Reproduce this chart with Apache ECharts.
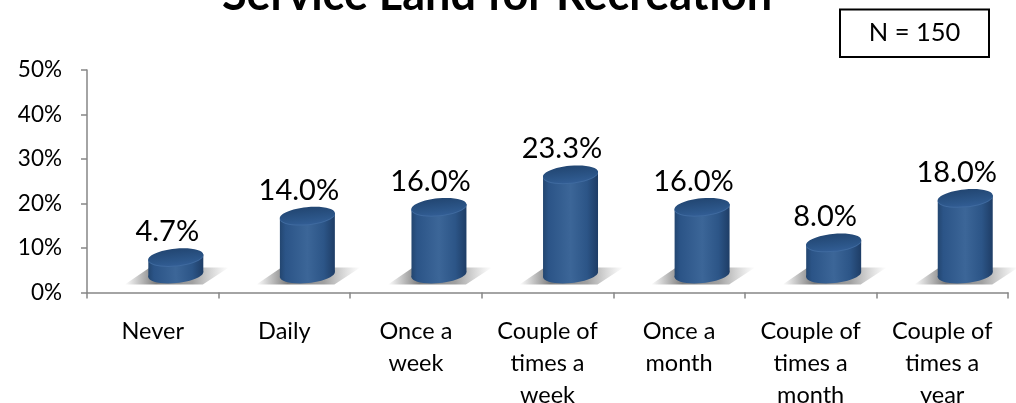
<!DOCTYPE html>
<html><head><meta charset="utf-8">
<style>html,body{margin:0;padding:0;background:#fff}#c{width:1016px;height:403px}</style>
<script src="https://cdn.jsdelivr.net/npm/echarts@6/dist/echarts.min.js"></script>
</head><body><div id="c"></div>
<script>
const titleText = 'Service Land for Recreation';
const noteText = 'N = 150';
const categories = ['Never','Daily','Once a\nweek','Couple of\ntimes a\nweek','Once a\nmonth','Couple of\ntimes a\nmonth','Couple of\ntimes a\nyear'];
const values = [4.7,14.0,16.0,23.3,16.0,8.0,18.0];
const yTicks = {min:0,max:50,interval:10};
const FONT = 'Lato, Carlito, "Open Sans", sans-serif';

function sideGrad(){
  return {type:'linear',x:0,y:0,x2:1,y2:0,colorStops:[
    {offset:0,color:'#234670'},{offset:0.1,color:'#2b5487'},{offset:0.5,color:'#3c6698'},
    {offset:0.8,color:'#2c5587'},{offset:1,color:'#1e3d66'}]};
}
function topGrad(){
  return {type:'linear',x:0,y:0,x2:0,y2:1,colorStops:[
    {offset:0,color:'#224672'},{offset:0.7,color:'#2c5689'},{offset:1,color:'#325d94'}]};
}
function renderBar(params, api){
  const i = api.value(0), v = api.value(1);
  const band = api.size([1,0])[0];
  const c = api.coord([i,v]), base = api.coord([i,0]);
  const cx = c[0] + band*0.175, rx = band*0.21, ry = 8.5;
  const topY = c[1]-14.5, botY = base[1]-18;
  const tilt = 0.1, dy = rx*Math.sin(tilt), dx = rx*Math.cos(tilt);
  const ell = (y,fill)=>({type:'ellipse',
    shape:{cx:0,cy:0,rx:rx,ry:ry},x:cx,y:y,rotation:tilt,style:{fill:fill}});
  const sb = base[1]-8, st = base[1]-25;
  return {type:'group',children:[
    {type:'polygon',shape:{points:[[cx-51,sb],[cx-26,st],[cx+53,st],[cx+27,sb]]},
     style:{fill:{type:'linear',x:0,y:0,x2:1,y2:0,colorStops:[
       {offset:0,color:'rgba(110,110,110,0)'},{offset:0.3,color:'rgba(110,110,110,0.9)'},
       {offset:0.65,color:'rgba(120,120,120,0.7)'},{offset:1,color:'rgba(150,150,150,0)'}]}}},
    ell(botY,sideGrad()),
    {type:'polygon',shape:{points:[[cx-dx,topY+dy],[cx+dx,topY-dy],[cx+dx,botY-dy],[cx-dx,botY+dy]]},
     style:{fill:sideGrad()}},
    ell(topY+1,'#3f6a9f'),
    ell(topY,topGrad()),
    {type:'text',x:c[0]+14.5,y:c[1]-40,style:{text:api.value(1).toFixed(1)+'%',fill:'#000',
      font:'29px '+FONT,textAlign:'center',textVerticalAlign:'middle'}}
  ]};
}

const chart = echarts.init(document.getElementById('c'),null,{renderer:'canvas'});
chart.setOption({
  animation:false,
  backgroundColor:'#fff',
  title:{text:titleText,left:492,textAlign:'center',top:-32,
    textStyle:{fontFamily:FONT,fontWeight:'bold',fontSize:45,color:'#000'}},
  grid:{left:87,right:8,top:70,bottom:110.5,containLabel:false,outerBoundsMode:'none'},
  xAxis:{type:'category',data:categories,
    axisLine:{lineStyle:{color:'#868686',width:1.5}},
    axisTick:{show:true,length:6,alignWithLabel:false,lineStyle:{color:'#868686',width:1.5}},
    axisLabel:{fontFamily:FONT,fontSize:23.5,color:'#000',lineHeight:32,margin:23,interval:0}},
  yAxis:{type:'value',min:yTicks.min,max:yTicks.max,interval:yTicks.interval,
    splitLine:{show:false},
    axisLine:{show:true,lineStyle:{color:'#868686',width:1.5}},
    axisTick:{show:true,length:6,lineStyle:{color:'#868686',width:1.5}},
    axisLabel:{fontFamily:FONT,fontSize:22.5,color:'#000',margin:25,formatter:'{value}%'}},
  graphic:[{type:'group',children:[
    {type:'rect',shape:{x:840,y:9.5,width:149,height:47.5},style:{fill:'#fff',stroke:'#000',lineWidth:2}},
    {type:'text',x:914.5,y:33,style:{text:noteText,fill:'#000',font:'25.5px '+FONT,textAlign:'center',textVerticalAlign:'middle'}}
  ]}],
  series:[{type:'custom',coordinateSystem:'cartesian2d',clip:false,
    data:values.map((v,i)=>[i,v]),encode:{x:0,y:1},renderItem:renderBar}]
});
</script></body></html>
